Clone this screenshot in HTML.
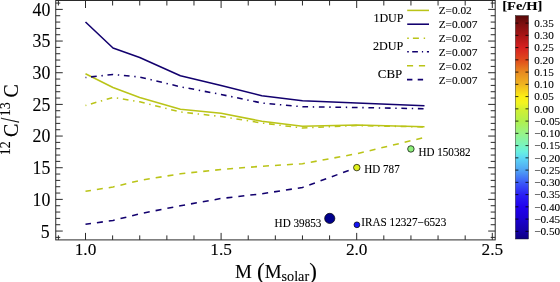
<!DOCTYPE html>
<html lang="en"><head><meta charset="utf-8"><title>12C/13C vs M</title>
<style>html,body{margin:0;padding:0;background:#fff;}body{width:560px;height:282px;overflow:hidden;font-family:"Liberation Serif", "DejaVu Serif", serif;}</style>
</head><body>
<svg width="560" height="282" viewBox="0 0 560 282" style="display:block">
<rect x="0" y="0" width="560" height="282" fill="#ffffff"/>
<polyline points="85.50,73.75 113.00,87.50 139.70,97.50 180.40,109.25 221.10,113.25 261.80,121.25 302.50,126.25 356.70,125.00 424.50,126.75" fill="none" stroke="#bac418" stroke-width="1.55" stroke-linejoin="round"/>
<polyline points="85.50,22.00 113.00,48.00 139.70,57.50 180.40,75.75 221.10,85.50 261.80,95.75 302.50,100.75 356.70,103.00 424.50,105.75" fill="none" stroke="#12006e" stroke-width="1.55" stroke-linejoin="round"/>
<polyline points="85.50,105.50 113.00,97.50 139.70,101.75 180.40,112.00 221.10,116.50 261.80,123.00 302.50,128.00 356.70,125.50 424.50,127.00" fill="none" stroke="#bac418" stroke-width="1.55" stroke-dasharray="1.4 4.7 5.7 4.7" stroke-dashoffset="0.5" stroke-linejoin="round"/>
<polyline points="85.50,77.50 113.00,74.50 139.70,77.00 180.40,86.75 221.10,94.50 261.80,103.00 302.50,106.75 356.70,107.50 424.50,108.75" fill="none" stroke="#12006e" stroke-width="1.55" stroke-dasharray="1.4 4.7 5.7 4.7" stroke-dashoffset="0.5" stroke-linejoin="round"/>
<polyline points="85.50,191.25 113.00,187.00 139.70,180.50 180.40,173.75 221.10,169.50 261.80,166.25 302.50,163.75 356.70,153.75 424.50,137.50" fill="none" stroke="#bac418" stroke-width="1.55" stroke-dasharray="6 6" stroke-dashoffset="0.5" stroke-linejoin="round"/>
<polyline points="85.50,224.25 113.00,220.50 139.70,213.75 180.40,205.75 221.10,198.50 261.80,193.75 302.50,187.50 356.70,167.50" fill="none" stroke="#12006e" stroke-width="1.55" stroke-dasharray="6 6" stroke-dashoffset="0.5" stroke-linejoin="round"/>
<path d="M58.38 239.9 v-4.5 M58.38 0.5 v5.0 M85.50 239.9 v-7 M85.50 0.5 v7.5 M112.62 239.9 v-4.5 M112.62 0.5 v5.0 M139.74 239.9 v-4.5 M139.74 0.5 v5.0 M166.86 239.9 v-4.5 M166.86 0.5 v5.0 M193.98 239.9 v-4.5 M193.98 0.5 v5.0 M221.10 239.9 v-7 M221.10 0.5 v7.5 M248.22 239.9 v-4.5 M248.22 0.5 v5.0 M275.34 239.9 v-4.5 M275.34 0.5 v5.0 M302.46 239.9 v-4.5 M302.46 0.5 v5.0 M329.58 239.9 v-4.5 M329.58 0.5 v5.0 M356.70 239.9 v-7 M356.70 0.5 v7.5 M383.82 239.9 v-4.5 M383.82 0.5 v5.0 M410.94 239.9 v-4.5 M410.94 0.5 v5.0 M438.06 239.9 v-4.5 M438.06 0.5 v5.0 M465.18 239.9 v-4.5 M465.18 0.5 v5.0 M492.30 239.9 v-7 M492.30 0.5 v7.5 M55.75 237.39 h4.5 M495.2 237.39 h-4.5 M55.75 231.06 h7 M495.2 231.06 h-7 M55.75 224.72 h4.5 M495.2 224.72 h-4.5 M55.75 218.39 h4.5 M495.2 218.39 h-4.5 M55.75 212.06 h4.5 M495.2 212.06 h-4.5 M55.75 205.72 h4.5 M495.2 205.72 h-4.5 M55.75 199.39 h7 M495.2 199.39 h-7 M55.75 193.06 h4.5 M495.2 193.06 h-4.5 M55.75 186.72 h4.5 M495.2 186.72 h-4.5 M55.75 180.39 h4.5 M495.2 180.39 h-4.5 M55.75 174.06 h4.5 M495.2 174.06 h-4.5 M55.75 167.73 h7 M495.2 167.73 h-7 M55.75 161.39 h4.5 M495.2 161.39 h-4.5 M55.75 155.06 h4.5 M495.2 155.06 h-4.5 M55.75 148.73 h4.5 M495.2 148.73 h-4.5 M55.75 142.39 h4.5 M495.2 142.39 h-4.5 M55.75 136.06 h7 M495.2 136.06 h-7 M55.75 129.73 h4.5 M495.2 129.73 h-4.5 M55.75 123.39 h4.5 M495.2 123.39 h-4.5 M55.75 117.06 h4.5 M495.2 117.06 h-4.5 M55.75 110.73 h4.5 M495.2 110.73 h-4.5 M55.75 104.40 h7 M495.2 104.40 h-7 M55.75 98.06 h4.5 M495.2 98.06 h-4.5 M55.75 91.73 h4.5 M495.2 91.73 h-4.5 M55.75 85.40 h4.5 M495.2 85.40 h-4.5 M55.75 79.06 h4.5 M495.2 79.06 h-4.5 M55.75 72.73 h7 M495.2 72.73 h-7 M55.75 66.40 h4.5 M495.2 66.40 h-4.5 M55.75 60.06 h4.5 M495.2 60.06 h-4.5 M55.75 53.73 h4.5 M495.2 53.73 h-4.5 M55.75 47.40 h4.5 M495.2 47.40 h-4.5 M55.75 41.06 h7 M495.2 41.06 h-7 M55.75 34.73 h4.5 M495.2 34.73 h-4.5 M55.75 28.40 h4.5 M495.2 28.40 h-4.5 M55.75 22.07 h4.5 M495.2 22.07 h-4.5 M55.75 15.73 h4.5 M495.2 15.73 h-4.5 M55.75 9.40 h7 M495.2 9.40 h-7 M55.75 3.07 h4.5 M495.2 3.07 h-4.5" stroke="#2a2a2a" stroke-width="1" fill="none"/>
<rect x="55.75" y="0.5" width="439.45" height="239.4" fill="none" stroke="#2a2a2a" stroke-width="1"/>
<g font-family='"Liberation Serif", "DejaVu Serif", serif' fill="#000000" stroke="#000000" stroke-width="0.1">
<text x="85.50" y="255.1" font-size="17.3" text-anchor="middle">1.0</text>
<text x="221.10" y="255.1" font-size="17.3" text-anchor="middle">1.5</text>
<text x="356.70" y="255.1" font-size="17.3" text-anchor="middle">2.0</text>
<text x="492.30" y="255.1" font-size="17.3" text-anchor="middle">2.5</text>
<text x="49.699999999999996" y="238.06" font-size="17.8" text-anchor="end">5</text>
<text x="50.3" y="205.79" font-size="17.8" text-anchor="end">10</text>
<text x="50.3" y="174.13" font-size="17.8" text-anchor="end">15</text>
<text x="50.3" y="142.46" font-size="17.8" text-anchor="end">20</text>
<text x="50.3" y="110.80" font-size="17.8" text-anchor="end">25</text>
<text x="50.3" y="79.13" font-size="17.8" text-anchor="end">30</text>
<text x="50.3" y="47.46" font-size="17.8" text-anchor="end">35</text>
<text x="50.3" y="15.80" font-size="17.8" text-anchor="end">40</text>
<text x="235" y="277.7" font-size="19">M <tspan font-size="23" dx="0.3" dy="1">(</tspan><tspan dy="-1">M</tspan><tspan font-size="14.2" dy="3.5">solar</tspan><tspan font-size="23" dy="-2.5">)</tspan></text>
<g transform="translate(18.3,156) rotate(-90)" font-size="20"><text x="0.7" y="-8.2" font-size="14">12</text><text x="19" y="0">C</text><text x="39.8" y="-8.2" font-size="14">13</text><text x="58.6" y="0">C</text></g>
<text transform="translate(19.4,120.2) rotate(-90) scale(0.9,1.36)" text-anchor="middle" x="0" y="0" font-size="20">/</text>
<text transform="translate(364.3,172.5) scale(0.94,1)" font-size="11.8">HD 787</text>
<text transform="translate(418.5,155.6) scale(0.94,1)" font-size="11.8">HD 150382</text>
<text transform="translate(274.6,226.7) scale(0.947,1)" font-size="11.8">HD 39853</text>
<text transform="translate(361.2,226.3) scale(0.951,1)" font-size="11.8">IRAS 12327−6523</text>
<text x="373.4" y="21.7" font-size="12.05">1DUP</text>
<text x="372.9" y="49.8" font-size="12.15">2DUP</text>
<text x="377.8" y="77.6" font-size="12.9">CBP</text>
<text x="438.7" y="14.20" font-size="11.3">Z=0.02</text>
<text x="438.7" y="28.12" font-size="11.3">Z=0.007</text>
<text x="438.7" y="42.04" font-size="11.3">Z=0.02</text>
<text x="438.7" y="55.96" font-size="11.3">Z=0.007</text>
<text x="438.7" y="69.88" font-size="11.3">Z=0.02</text>
<text x="438.7" y="83.80" font-size="11.3">Z=0.007</text>
<text transform="translate(502.2,10.3) scale(1.098,1)" font-size="13.2" font-weight="bold">[Fe/H]</text>
<text x="534.2" y="26.90" font-size="11.2">0.35</text>
<text x="534.2" y="39.15" font-size="11.2">0.30</text>
<text x="534.2" y="51.40" font-size="11.2">0.25</text>
<text x="534.2" y="63.65" font-size="11.2">0.20</text>
<text x="534.2" y="75.90" font-size="11.2">0.15</text>
<text x="534.2" y="88.15" font-size="11.2">0.10</text>
<text x="534.2" y="100.40" font-size="11.2">0.05</text>
<text x="534.2" y="112.65" font-size="11.2">0.00</text>
<text x="534.2" y="124.90" font-size="11.2">−0.05</text>
<text x="534.2" y="137.15" font-size="11.2">−0.10</text>
<text x="534.2" y="149.40" font-size="11.2">−0.15</text>
<text x="534.2" y="161.65" font-size="11.2">−0.20</text>
<text x="534.2" y="173.90" font-size="11.2">−0.25</text>
<text x="534.2" y="186.15" font-size="11.2">−0.30</text>
<text x="534.2" y="198.40" font-size="11.2">−0.35</text>
<text x="534.2" y="210.65" font-size="11.2">−0.40</text>
<text x="534.2" y="222.90" font-size="11.2">−0.45</text>
<text x="534.2" y="235.15" font-size="11.2">−0.50</text>
</g>
<line x1="407.2" y1="10.40" x2="429.0" y2="10.40" stroke="#bac418" stroke-width="1.55"/>
<line x1="407.2" y1="24.20" x2="429.0" y2="24.20" stroke="#12006e" stroke-width="1.55"/>
<line x1="407.2" y1="38.20" x2="429.0" y2="38.20" stroke="#bac418" stroke-width="1.55" stroke-dasharray="1.6 4.1 6 4.8 1.4 100"/>
<line x1="407.2" y1="51.80" x2="429.0" y2="51.80" stroke="#12006e" stroke-width="1.55" stroke-dasharray="1.6 3.4 5.7 4 1.2 3.8 2.1 100"/>
<line x1="407.0" y1="65.75" x2="429.0" y2="65.75" stroke="#bac418" stroke-width="1.55" stroke-dasharray="6.1 5.8 6.2 100"/>
<line x1="407.0" y1="79.60" x2="429.0" y2="79.60" stroke="#12006e" stroke-width="1.55" stroke-dasharray="5.4 5.3 5.4 100"/>
<defs><linearGradient id="jet" x1="0" y1="0" x2="0" y2="1"><stop offset="0.0000" stop-color="#560808"/><stop offset="0.0336" stop-color="#7a1010"/><stop offset="0.0886" stop-color="#a81616"/><stop offset="0.1432" stop-color="#d82020"/><stop offset="0.1983" stop-color="#e04a1c"/><stop offset="0.2529" stop-color="#e88a20"/><stop offset="0.3080" stop-color="#f0b420"/><stop offset="0.3626" stop-color="#fcee14"/><stop offset="0.3912" stop-color="#f2f420"/><stop offset="0.4176" stop-color="#d4f030"/><stop offset="0.4722" stop-color="#b0f04c"/><stop offset="0.5273" stop-color="#98f488"/><stop offset="0.5819" stop-color="#78f4c0"/><stop offset="0.6092" stop-color="#68f0e0"/><stop offset="0.6370" stop-color="#5cd8f4"/><stop offset="0.6916" stop-color="#50a4f4"/><stop offset="0.7466" stop-color="#3c5cf8"/><stop offset="0.8013" stop-color="#2a20f4"/><stop offset="0.8563" stop-color="#2000ee"/><stop offset="0.9109" stop-color="#1a00d0"/><stop offset="0.9660" stop-color="#1400a4"/><stop offset="1.0000" stop-color="#0e0080"/></linearGradient></defs>
<rect x="515.4" y="15.6" width="13.10" height="223.40" fill="url(#jet)" stroke="#1a1a1a" stroke-width="0.45"/>
<path d="M515.4 23.10 h3 M528.5 23.10 h-3 M515.4 35.35 h3 M528.5 35.35 h-3 M515.4 47.60 h3 M528.5 47.60 h-3 M515.4 59.85 h3 M528.5 59.85 h-3 M515.4 72.10 h3 M528.5 72.10 h-3 M515.4 84.35 h3 M528.5 84.35 h-3 M515.4 96.60 h3 M528.5 96.60 h-3 M515.4 108.85 h3 M528.5 108.85 h-3 M515.4 121.10 h3 M528.5 121.10 h-3 M515.4 133.35 h3 M528.5 133.35 h-3 M515.4 145.60 h3 M528.5 145.60 h-3 M515.4 157.85 h3 M528.5 157.85 h-3 M515.4 170.10 h3 M528.5 170.10 h-3 M515.4 182.35 h3 M528.5 182.35 h-3 M515.4 194.60 h3 M528.5 194.60 h-3 M515.4 206.85 h3 M528.5 206.85 h-3 M515.4 219.10 h3 M528.5 219.10 h-3 M515.4 231.35 h3 M528.5 231.35 h-3" stroke="#000" stroke-width="0.8" fill="none"/>
<circle cx="329.75" cy="218.4" r="5.1" fill="#00008c" stroke="#000" stroke-width="0.7"/>
<circle cx="356.9" cy="224.8" r="2.9" fill="#1414f4" stroke="#000" stroke-width="0.7"/>
<circle cx="356.8" cy="167.6" r="3.25" fill="#dff01c" stroke="#000" stroke-width="0.7"/>
<circle cx="410.9" cy="148.95" r="3.25" fill="#8ff07c" stroke="#000" stroke-width="0.7"/>
</svg>
</body></html>
